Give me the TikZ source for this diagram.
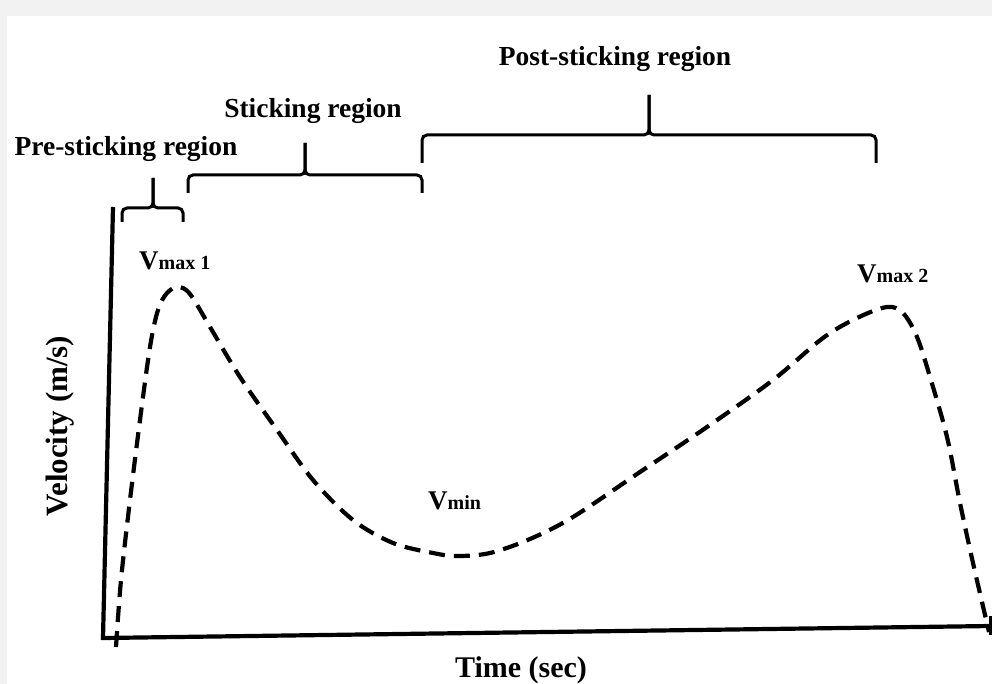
\documentclass[tikz,border=0pt]{standalone}
\usepackage{fontspec}
\setmainfont{Liberation Serif}
\begin{document}
\begin{tikzpicture}[x=1pt,y=-1pt,
  lbl/.style={font=\bfseries\fontsize{27.5}{30}\selectfont, inner sep=0pt, anchor=base},
  vlbl/.style={font=\bfseries\fontsize{27}{30}\selectfont, inner sep=0pt, anchor=base west},
  brace/.style={line width=3pt, rounded corners=5pt},
  axis/.style={line width=4.2pt},
  curve/.style={line width=4.2pt, dash pattern=on 16pt off 9pt}]
\useasboundingbox (0,0) rectangle (992,684);
\fill[fill={rgb,255:red,242;green,242;blue,242}] (0,0) rectangle (992,684);
\fill[white] (7,16) rectangle (992,684);
% axes
\coordinate (ytop) at (113,207);
\coordinate (orig) at (103,638);
\coordinate (xend) at (991,626);
\draw[axis] (ytop) -- (orig) -- (xend);
\coordinate (tk1) at (990,616);
\coordinate (tk2) at (990,635);
\draw[line width=3pt] (tk1) -- (tk2);
% curve
\draw[curve] plot[smooth, tension=0.55] coordinates {
 (116,647) (121,580) (130,500) (140,420) (150,347) (158,310) (167,293) (178,287)
 (190,294) (210,327) (240,377) (277,430) (313,480) (353,520) (393,543) (433,553)
 (457,556) (490,553) (530,539) (573,517) (640,472) (707,427) (773,380) (823,338)
 (857,318) (887,307) (903,313) (917,337) (930,377) (947,437) (960,503) (973,563) (989,632)};
% braces
\draw[brace] (122,222) -- (122,208) -- (153,208) -- (153,178);
\draw[brace] (153,178) -- (153,208) -- (183,208) -- (183,222);
\draw[brace] (188,193) -- (188,175) -- (305,175) -- (305,143);
\draw[brace] (305,143) -- (305,175) -- (422,175) -- (422,193);
\draw[brace] (422,163) -- (422,135) -- (649,135) -- (649,95);
\draw[brace] (649,95) -- (649,135) -- (876,135) -- (876,163);
% labels
\node[lbl] (pre) at (126,156) {Pre-sticking region};
\node[lbl] (stk) at (313,118) {Sticking region};
\node[lbl] (post) at (615,66) {Post-sticking region};
\node[vlbl] (vm1) at (139,270) {V{\fontsize{20}{21}\selectfont max 1}};
\node[vlbl] (vm2) at (857,283) {V{\fontsize{20}{21}\selectfont max 2}};
\node[vlbl] (vmin) at (428,509) {V{\fontsize{20}{21}\selectfont min}};
\node[font=\bfseries\fontsize{31}{34}\selectfont, inner sep=0pt, rotate=90] (vel) at (60,426) {Velocity (m/s)};
\node[font=\bfseries\fontsize{30}{32}\selectfont, inner sep=0pt, anchor=base] (time) at (521,677) {Time (sec)};
\end{tikzpicture}
\end{document}
